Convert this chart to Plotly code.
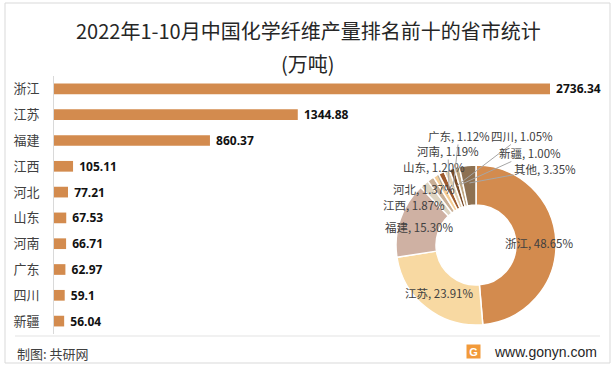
import plotly.graph_objects as go
import math

W, H = 616, 370

# ---- data ----
provinces = ["浙江", "江苏", "福建", "江西", "河北", "山东", "河南", "广东", "四川", "新疆"]
output_wt = [2736.34, 1344.88, 860.37, 105.11, 77.21, 67.53, 66.71, 62.97, 59.1, 56.04]
output_labels = ["2736.34", "1344.88", "860.37", "105.11", "77.21", "67.53", "66.71", "62.97", "59.1", "56.04"]

share_names = ["浙江", "江苏", "福建", "江西", "河北", "山东", "河南", "广东", "四川", "新疆", "其他"]
share_pct = [48.65, 23.91, 15.30, 1.87, 1.37, 1.20, 1.19, 1.12, 1.05, 1.00, 3.35]
share_text = ["48.65%", "23.91%", "15.30%", "1.87%", "1.37%", "1.20%", "1.19%", "1.12%", "1.05%", "1.00%", "3.35%"]
share_colors = ["#D38B4E", "#F8D9A2", "#CFB1A3", "#DDD3C0", "#C9AE94", "#F6CD95",
                "#9E5A2E", "#E2CFB1", "#7A4B27", "#BFA57E", "#8D7152"]

title_line1 = "2022年1-10月中国化学纤维产量排名前十的省市统计"
title_line2 = "(万吨)"
source_text = "制图: 共研网"
site_text = "www.gonyn.com"

CJK = "Noto Sans CJK SC, Microsoft YaHei, sans-serif"


def px(x):
    return x / W


def py(y):
    return 1 - y / H


fig = go.Figure()

# ---- bar chart ----
bar_left, bar_right, bar_full = 54, 610, 496
xmax = max(output_wt) * (bar_right - bar_left) / bar_full

fig.add_trace(go.Bar(
    y=provinces, x=output_wt, orientation="h",
    marker=dict(color="#D38B4E", line=dict(width=0)),
    text=["\u00a0" + t for t in output_labels],
    textposition="outside", cliponaxis=False, constraintext="none",
    textfont=dict(family="Noto Sans, " + CJK, size=12, color="#111111", weight="bold"),
    hoverinfo="skip", showlegend=False,
))

fig.update_layout(
    xaxis=dict(domain=[px(bar_left), px(bar_right)], range=[0, xmax],
               visible=False, fixedrange=True),
    yaxis=dict(domain=[py(334), py(76)], autorange="reversed",
               showline=True, linecolor="#D9D9D9", linewidth=1,
               ticks="", showgrid=False, zeroline=False,
               ticklabelstandoff=11,
               tickfont=dict(family=CJK, size=13, color="#404040")),
    bargap=0.585,
)

# ---- donut ----
cx, cy, R = 476, 245, 80
fig.add_trace(go.Pie(
    labels=share_names, values=share_pct, sort=False,
    direction="clockwise", rotation=0, hole=0.5,
    marker=dict(colors=share_colors, line=dict(color="white", width=1.5)),
    textinfo="none", hoverinfo="skip", showlegend=False,
    domain=dict(x=[px(cx - R), px(cx + R)], y=[py(cy + R), py(cy - R)]),
))

# ---- donut labels ----
label_pos = {
    "浙江": (539, 243), "江苏": (439, 293), "福建": (419, 227), "江西": (414, 205),
    "河北": (424, 189), "山东": (434, 167), "河南": (448, 151), "广东": (459, 136),
    "四川": (522, 136), "新疆": (530, 153), "其他": (545, 169),
}
leader = {"山东", "河南", "广东", "四川", "新疆", "其他"}
total = sum(share_pct)
cum = 0.0
for name, v, t in zip(share_names, share_pct, share_text):
    mid = (cum + v / 2) / total * 2 * math.pi
    cum += v
    lx, ly = label_pos[name]
    txt = f"{name}, {t}"
    if name in leader:
        r = R * 0.78
        axp = cx + r * math.sin(mid)
        ayp = cy - r * math.cos(mid)
        fig.add_annotation(
            x=px(axp), y=py(ayp), xref="paper", yref="paper",
            ax=lx - axp, ay=ly - ayp,
            text=txt, showarrow=True, arrowhead=0, arrowwidth=1,
            arrowcolor="#A6A6A6", standoff=0, startstandoff=0,
            borderpad=0,
            font=dict(family=CJK, size=11.5, color="#404040"),
        )
    else:
        fig.add_annotation(
            x=px(lx), y=py(ly), xref="paper", yref="paper",
            xanchor="center", yanchor="middle", borderpad=0,
            text=txt, showarrow=False,
            font=dict(family=CJK, size=11.5, color="#404040"),
        )

# ---- titles / footer ----
fig.add_annotation(x=px(308), y=py(30), xref="paper", yref="paper",
                   xanchor="center", yanchor="middle",
                   text=title_line1, showarrow=False,
                   font=dict(family=CJK, size=20, color="#262626"))
fig.add_annotation(x=px(308), y=py(63), xref="paper", yref="paper",
                   xanchor="center", yanchor="middle",
                   text=title_line2, showarrow=False,
                   font=dict(family=CJK, size=20, color="#262626"))
fig.add_annotation(x=px(15), y=py(353), xref="paper", yref="paper",
                   xanchor="left", yanchor="middle", text=source_text, showarrow=False,
                   font=dict(family=CJK, size=13, color="#404040"))
fig.add_annotation(x=px(599), y=py(352), xref="paper", yref="paper",
                   xanchor="right", yanchor="middle", text=site_text, showarrow=False,
                   font=dict(family="Liberation Sans, Arial, sans-serif", size=14, color="#262626"))
fig.add_annotation(x=px(473), y=py(351), xref="paper", yref="paper",
                   xanchor="center", yanchor="middle",
                   text="<b>G</b>", showarrow=False, bgcolor="#F29A3A",
                   borderpad=0, width=13, height=13,
                   font=dict(family="Liberation Sans, sans-serif", size=11, color="white"))

# border and separator
fig.add_shape(type="rect", xref="paper", yref="paper",
              x0=px(5), x1=px(610), y0=py(363), y1=py(3),
              line=dict(color="#D9D9D9", width=1), fillcolor="rgba(0,0,0,0)", layer="below")
fig.add_shape(type="line", xref="paper", yref="paper",
              x0=px(15), x1=px(600), y0=py(336), y1=py(336),
              line=dict(color="#E3E3E3", width=1))

fig.update_layout(
    width=W, height=H, margin=dict(l=0, r=0, t=0, b=0),
    paper_bgcolor="white", plot_bgcolor="white",
)

fig.write_html("out.html", config={"displayModeBar": False},
               post_script="document.body.style.margin='0';")
